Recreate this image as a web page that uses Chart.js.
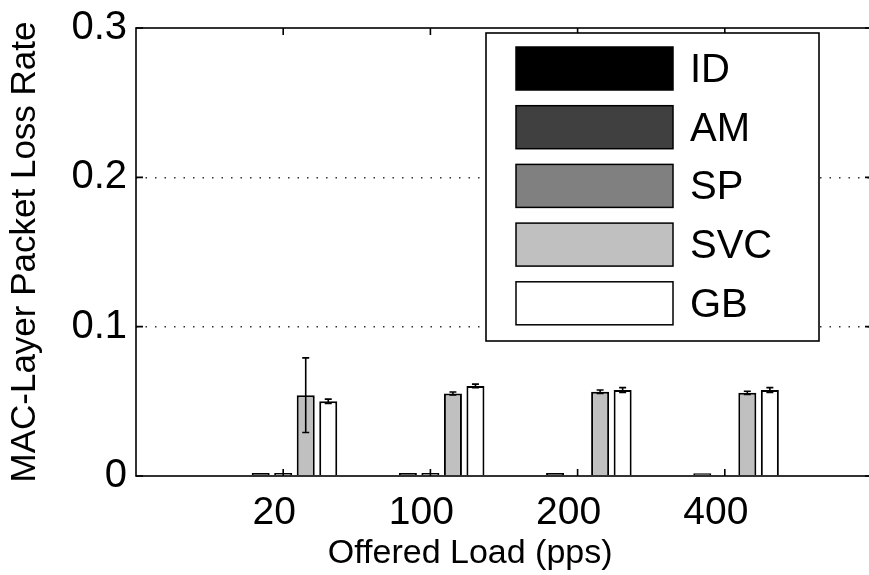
<!DOCTYPE html>
<html>
<head>
    <title>MAC-Layer Packet Loss Rate</title>
    <script src="https://cdn.jsdelivr.net/npm/chart.js"></script>
    <style>
        html, body { margin: 0; padding: 0; background: #fff; overflow: hidden; }
        canvas { display: block; }
    </style>
</head>
<body>
    <canvas id="lossChart" width="873" height="575"></canvas>

    <script>
        // offered load groups and loss rates per scheme
        const categories = ['20', '100', '200', '400'];
        const seriesNames = ['ID', 'AM', 'SP', 'SVC', 'GB'];
        const idLoss  = [0, 0, 0, 0];
        const amLoss  = [0.002, 0.002, 0.002, 0.0018];
        const spLoss  = [0.002, 0.002, 0, 0];
        const svcLoss = [0.0541, 0.0553, 0.0564, 0.0557];
        const gbLoss  = [0.0500, 0.0603, 0.0576, 0.0576];
        const svcErr  = [0.025, 0.001, 0.0012, 0.0011];
        const gbErr   = [0.0015, 0.0012, 0.0016, 0.0016];
        const yTicks  = [0, 0.1, 0.2, 0.3];
        const xTitle  = 'Offered Load (pps)';
        const yTitle  = 'MAC-Layer Packet Loss Rate';

        const FONT = 'Liberation Sans, Arial, Helvetica, sans-serif';
        const fills = ['#000000', '#404040', '#808080', '#c0c0c0', '#ffffff'];
        const values = [idLoss, amLoss, spLoss, svcLoss, gbLoss];
        const errors = [null, null, null, svcErr, gbErr];

        // groups sit at x = 1..4 on a 0..5 axis
        const datasets = seriesNames.map((name, s) => ({
            label: name,
            data: values[s].map((v, i) => ({ x: i + 1, y: v })),
            errors: errors[s],
            backgroundColor: fills[s],
            borderColor: '#000',
            borderWidth: 2,
            borderSkipped: 'start'
        }));

        // error bars drawn on top of the bars
        const errorBars = {
            id: 'errorBars',
            afterDatasetsDraw(chart) {
                const ctx = chart.ctx;
                const y = chart.scales.y;
                ctx.save();
                ctx.strokeStyle = '#000';
                ctx.lineWidth = 1.6;
                chart.data.datasets.forEach((ds, s) => {
                    if (!ds.errors) return;
                    chart.getDatasetMeta(s).data.forEach((bar, i) => {
                        const v = ds.data[i].y, e = ds.errors[i];
                        const top = y.getPixelForValue(v + e);
                        const bot = y.getPixelForValue(v - e);
                        ctx.beginPath();
                        ctx.moveTo(bar.x, top); ctx.lineTo(bar.x, bot);
                        ctx.moveTo(bar.x - 3.5, top); ctx.lineTo(bar.x + 3.5, top);
                        ctx.moveTo(bar.x - 3.5, bot); ctx.lineTo(bar.x + 3.5, bot);
                        ctx.stroke();
                    });
                });
                ctx.restore();
            }
        };

        // box round the axes with inward tick marks, the x title, then the legend
        const frame = {
            id: 'frame',
            afterDraw(chart) {
                const ctx = chart.ctx;
                const a = chart.chartArea;
                const x = chart.scales.x, y = chart.scales.y;
                ctx.save();
                ctx.strokeStyle = '#000';
                ctx.lineWidth = 1.6;
                ctx.strokeRect(a.left, a.top, a.right - a.left, a.bottom - a.top);
                ctx.beginPath();
                categories.forEach((c, i) => {
                    const px = x.getPixelForValue(i + 1);
                    ctx.moveTo(px, a.bottom); ctx.lineTo(px, a.bottom - 7);
                    ctx.moveTo(px, a.top); ctx.lineTo(px, a.top + 7);
                });
                yTicks.forEach(t => {
                    const py = y.getPixelForValue(t);
                    ctx.moveTo(a.left, py); ctx.lineTo(a.left + 7, py);
                    ctx.moveTo(a.right, py); ctx.lineTo(a.right - 7, py);
                });
                ctx.stroke();

                ctx.fillStyle = '#000';
                ctx.font = '34px ' + FONT;
                ctx.textAlign = 'center';
                ctx.textBaseline = 'middle';
                ctx.fillText(xTitle, x.getPixelForValue(2.27), a.bottom + 78);

                // legend
                const lx = a.left + 350, ly = a.top + 5, lw = 333, lh = 308;
                ctx.fillStyle = '#fff';
                ctx.fillRect(lx, ly, lw, lh);
                ctx.lineWidth = 1.6;
                ctx.strokeRect(lx, ly, lw, lh);
                ctx.font = '40px ' + FONT;
                ctx.textAlign = 'left';
                chart.data.datasets.forEach((ds, s) => {
                    const sy = ly + 14 + s * 58.7;
                    ctx.fillStyle = ds.backgroundColor;
                    ctx.fillRect(lx + 30, sy, 157, 43);
                    ctx.strokeStyle = '#000';
                    ctx.lineWidth = 1.5;
                    ctx.strokeRect(lx + 30, sy, 157, 43);
                    ctx.fillStyle = '#000';
                    ctx.fillText(ds.label, lx + 204, sy + 24);
                });
                ctx.restore();
            }
        };

        const ctx = document.getElementById('lossChart').getContext('2d');
        new Chart(ctx, {
            type: 'bar',
            data: { datasets: datasets },
            plugins: [errorBars, frame],
            options: {
                responsive: false,
                animation: false,
                categoryPercentage: 0.765,
                barPercentage: 0.8,
                layout: { padding: { top: 28, right: 1, left: 0, bottom: 0 } },
                plugins: {
                    legend: { display: false },
                    tooltip: { enabled: false }
                },
                scales: {
                    x: {
                        type: 'linear',
                        min: 0,
                        max: 5,
                        offset: false,
                        grid: { display: false, drawTicks: false },
                        border: { display: false },
                        ticks: {
                            stepSize: 1,
                            autoSkip: false,
                            padding: 14,
                            labelOffset: -9,
                            color: '#000',
                            font: { family: FONT, size: 39 },
                            callback: v => categories[v - 1] || ''
                        },
                        afterFit: s => {
                            s.height = 99;
                            s.paddingLeft = 0;
                            s.paddingRight = 0;
                        }
                    },
                    y: {
                        min: 0,
                        max: 0.3,
                        grid: {
                            drawTicks: false,
                            lineWidth: 1.5,
                            color: c => (c.tick.value > 0 && c.tick.value < 0.3) ? '#333' : 'rgba(0,0,0,0)'
                        },
                        border: { display: false, dash: [1.5, 8] },
                        ticks: {
                            stepSize: 0.1,
                            padding: 9,
                            color: '#000',
                            font: { family: FONT, size: 40 },
                            callback: v => v === 0 ? '0' : v.toFixed(1)
                        },
                        title: {
                            display: true,
                            text: yTitle,
                            color: '#000',
                            font: { family: FONT, size: 35 },
                            padding: { top: 4, bottom: 2 }
                        },
                        afterFit: s => {
                            s.width = 136;
                            s.paddingTop = 0;
                            s.paddingBottom = 0;
                        }
                    }
                }
            }
        });
    </script>
</body>
</html>
